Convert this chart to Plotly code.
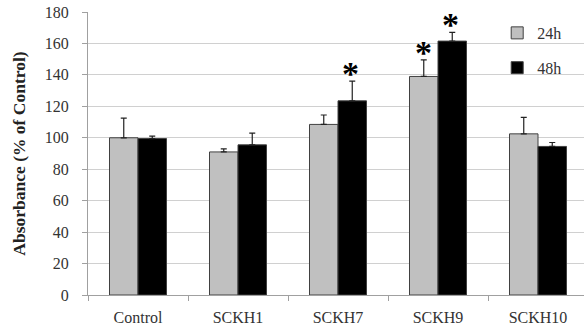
import plotly.graph_objects as go

categories = ["Control", "SCKH1", "SCKH7", "SCKH9", "SCKH10"]
values_24h = [100, 91, 108.5, 139, 102.5]
values_48h = [99.5, 95.5, 123.5, 161.5, 94.5]
err_24h = [12.5, 2, 6, 10.5, 10.5]
err_48h = [1.5, 7.5, 12.5, 5.5, 2.5]
sig_24h = [False, False, False, True, False]
sig_48h = [False, False, True, True, False]
y_ticks = [0, 20, 40, 60, 80, 100, 120, 140, 160, 180]

FONT = "Liberation Serif, Times New Roman, serif"

fig = go.Figure()
fig.add_trace(go.Bar(
    name="24h", x=categories, y=values_24h,
    marker=dict(color="#c0c0c0", line=dict(color="#404040", width=1)),
    error_y=dict(type="data", array=err_24h, arrayminus=[0]*5, symmetric=False,
                 color="#222222", thickness=1.2, width=3),
    legendgroup="a",
))
fig.add_trace(go.Bar(
    name="48h", x=categories, y=values_48h,
    marker=dict(color="#000000", line=dict(color="#404040", width=1)),
    error_y=dict(type="data", array=err_48h, arrayminus=[0]*5, symmetric=False,
                 color="#222222", thickness=1.2, width=3),
    legendgroup="b",
))

annotations = []
for i, c in enumerate(categories):
    if sig_24h[i]:
        annotations.append(dict(x=c, y=values_24h[i] + err_24h[i], xref="x", yref="y",
                                text="<b>*</b>", showarrow=False, xshift=-15, yshift=-13,
                                yanchor="bottom", font=dict(size=34, color="black", family=FONT)))
    if sig_48h[i]:
        annotations.append(dict(x=c, y=values_48h[i] + err_48h[i], xref="x", yref="y",
                                text="<b>*</b>", showarrow=False, xshift=12, yshift=-13,
                                yanchor="bottom", font=dict(size=34, color="black", family=FONT)))

fig.update_layout(
    width=584, height=330,
    margin=dict(l=88, r=0, t=12, b=35),
    paper_bgcolor="white", plot_bgcolor="white",
    barmode="group", bargap=0.43, bargroupgap=0,
    font=dict(family=FONT, size=16, color="#333333"),
    showlegend=True,
    legend=dict(x=0.825, y=0.986, xanchor="left", yanchor="top",
                font=dict(size=16, family=FONT, color="#333333"), tracegroupgap=11,
                bgcolor="rgba(0,0,0,0)", itemwidth=30),
    annotations=annotations,
    xaxis=dict(range=[-0.5, 4.46], showgrid=False, tickson="boundaries",
               ticks="outside", ticklen=5, tickcolor="#a0a0a0",
               showline=True, linecolor="#a0a0a0", linewidth=1,
               ticklabelstandoff=8,
               tickfont=dict(size=16, family=FONT, color="#333333")),
    yaxis=dict(range=[0, 180], tickvals=y_ticks, showgrid=True, gridcolor="#d0d0d0",
               ticks="outside", ticklen=5, tickcolor="#a0a0a0",
               showline=True, linecolor="#a0a0a0", linewidth=1, zeroline=False,
               ticklabelstandoff=10,
               tickfont=dict(size=16, family=FONT, color="#333333"),
               title=dict(text="<b>Absorbance (% of Control)</b>",
                          font=dict(size=17.5, family=FONT, color="#222222"), standoff=14)),
)

fig.write_html("out.html", config={"displayModeBar": False},
               post_script="document.body.style.margin='0';")
